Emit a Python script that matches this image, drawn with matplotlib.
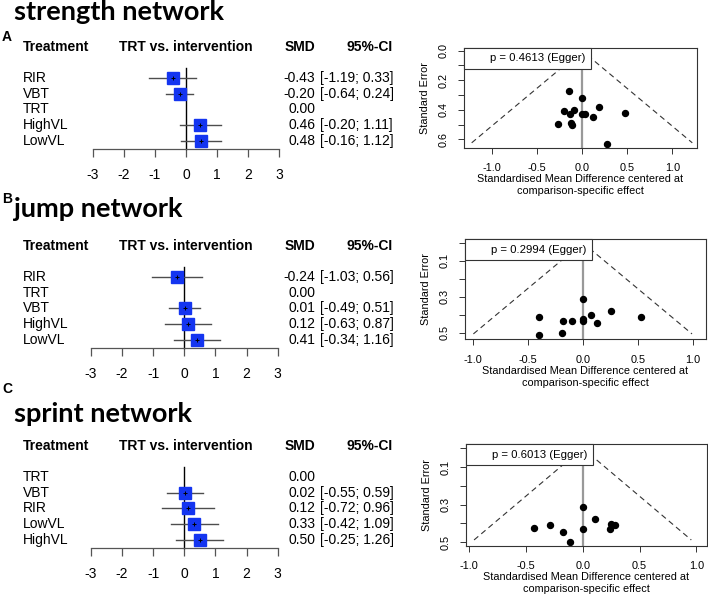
import numpy as np
import matplotlib
matplotlib.use("Agg")
import matplotlib.pyplot as plt
from matplotlib.lines import Line2D
from matplotlib.transforms import blended_transform_factory

plt.rcParams['font.family'] = ['Liberation Sans', 'DejaVu Sans']
plt.rcParams['axes.unicode_minus'] = False

W, H = 708, 597

# ---- forest plot data ----
titles = ["strength network", "jump network", "sprint network"]
panel_letters = ["A", "B", "C"]

trt_a = ["RIR", "VBT", "TRT", "HighVL", "LowVL"]
smd_a = [-0.43, -0.20, 0.00, 0.46, 0.48]
lo_a = [-1.19, -0.64, np.nan, -0.20, -0.16]
hi_a = [0.33, 0.24, np.nan, 1.11, 1.12]

trt_b = ["RIR", "TRT", "VBT", "HighVL", "LowVL"]
smd_b = [-0.24, 0.00, 0.01, 0.12, 0.41]
lo_b = [-1.03, np.nan, -0.49, -0.63, -0.34]
hi_b = [0.56, np.nan, 0.51, 0.87, 1.16]

trt_c = ["TRT", "VBT", "RIR", "LowVL", "HighVL"]
smd_c = [0.00, 0.02, 0.12, 0.33, 0.50]
lo_c = [np.nan, -0.55, -0.72, -0.42, -0.25]
hi_c = [np.nan, 0.59, 0.96, 1.09, 1.26]

# ---- funnel plot data ----
fx_a = [-0.14, 0.0, -0.20, -0.085, -0.133, 0.0, 0.037, 0.19, 0.118, 0.48, -0.27, -0.122, -0.114, 0.273]
fy_a = [0.271, 0.318, 0.41, 0.401, 0.431, 0.429, 0.427, 0.381, 0.449, 0.422, 0.498, 0.487, 0.503, 0.631]
fx_b = [0.0, 0.257, -0.397, -0.176, -0.10, 0.0, 0.0, 0.073, 0.127, 0.53, -0.19, -0.397]
fy_b = [0.315, 0.378, 0.411, 0.433, 0.433, 0.424, 0.434, 0.40, 0.448, 0.414, 0.50, 0.513]
fx_c = [0.0, 0.108, -0.426, -0.287, -0.170, 0.0, -0.111, 0.249, 0.284, 0.240]
fy_c = [0.314, 0.378, 0.425, 0.408, 0.443, 0.427, 0.496, 0.401, 0.408, 0.431]
se_max = [0.623, 0.507, 0.4875]
egger_p = ["0.4613", "0.2994", "0.6013"]

forest = [(trt_a, smd_a, lo_a, hi_a), (trt_b, smd_b, lo_b, hi_b), (trt_c, smd_c, lo_c, hi_c)]
funnel = [(fx_a, fy_a), (fx_b, fy_b), (fx_c, fy_c)]

# layout in pixels (from top-left)
shift = [0, 199, 399]
forest_x = [(92.7, 279.3), (90.7, 277.7), (90.7, 277.7)]
funnel_box = [(464, 696.7, 47.7, 147.7), (465, 706, 239, 339.3), (465.7, 706.7, 444, 545.7)]
funnel_xlim = [(-1.306, 1.270), (-1.07, 1.121), (-1.029, 1.091)]
funnel_ylim = [(0.656, -0.020), (0.537, -0.0206), (0.518, -0.022)]
funnel_yticks = [[0.0, 0.1, 0.2, 0.3, 0.4, 0.5, 0.6], [0.0, 0.1, 0.2, 0.3, 0.4, 0.5], [0.0, 0.1, 0.2, 0.3, 0.4, 0.5]]
funnel_ylabels = [["0.0", "", "0.2", "", "0.4", "", "0.6"], ["", "0.1", "", "0.3", "", "0.5"], ["", "0.1", "", "0.3", "", "0.5"]]
title_base = [20.5, 217, 421.5]
letter_y = [37, 199, 389]

row0 = 77.7
row_sp = 15.83
axis_y = 149.3


def box(l, r, t, b):
    return [l / W, 1 - b / H, (r - l) / W, (b - t) / H]


fig = plt.figure(figsize=(W / 100, H / 100), dpi=100)

for k in range(3):
    trt, smd, lo, hi = forest[k]
    s = shift[k]
    x0, x1 = forest_x[k]
    top = row0 + s - 0.5 * row_sp
    bot = axis_y + s
    ax = fig.add_axes(box(x0, x1, top, bot))
    ax.set_xlim(-3, 3)
    ax.set_ylim((bot - row0 - s) / row_sp, -0.5)
    for sp in ["top", "right", "left"]:
        ax.spines[sp].set_visible(False)
    ax.spines["bottom"].set_color("#555555")
    ax.spines["bottom"].set_linewidth(0.9)
    ax.set_yticks([])
    ax.set_xticks(range(-3, 4))
    ax.tick_params(axis="x", direction="out", length=5.5, width=0.9, color="#555555", pad=8, labelsize=10)
    ax.patch.set_alpha(0)

    ax.axvline(0, color="black", lw=1.0, ymax=1.02, clip_on=False)
    rows = np.arange(len(trt))
    for i in rows:
        if not np.isnan(lo[i]):
            ax.plot([lo[i], hi[i]], [i, i], color="#4d4d4d", lw=1.0)
            ax.plot(smd[i], i, marker="s", ms=9, color="#1435f0", mec="#1435f0")
            ax.plot(smd[i], i, marker="+", ms=3, color="black", mew=0.7)

    tr = blended_transform_factory(fig.transFigure, ax.transData)
    hy = -1.96
    ax.text(23 / W, hy, "Treatment", transform=tr, fontsize=10, fontweight="bold", va="center", ha="left")
    ax.text(185.5 / W, hy + 0.05, "TRT vs. intervention", transform=tr, fontsize=10, fontweight="bold", va="center", ha="center")
    ax.text(315.5 / W, hy, "SMD", transform=tr, fontsize=10, fontweight="bold", va="center", ha="right")
    ax.text(369.5 / W, hy, "95%-CI", transform=tr, fontsize=10, fontweight="bold", va="center", ha="center")
    for i in rows:
        ax.text(23 / W, i, trt[i], transform=tr, fontsize=10, va="center", ha="left")
        ax.text(315.5 / W, i, "%.2f" % smd[i], transform=tr, fontsize=10, va="center", ha="right")
        if not np.isnan(lo[i]):
            ax.text(320.5 / W, i, "[%.2f; %.2f]" % (lo[i], hi[i]), transform=tr, fontsize=10, va="center", ha="left")

    fig.text(14 / W, 1 - title_base[k] / H, titles[k], fontsize=19.5, fontweight="bold",
             family=["Lato", "DejaVu Sans"], va="baseline", ha="left")
    fig.text(2 / W, 1 - letter_y[k] / H, panel_letters[k], fontsize=10, fontweight="bold", va="center", ha="left")

    # funnel
    fxs, fys = funnel[k]
    l, r, t, b = funnel_box[k]
    fa = fig.add_axes(box(l, r, t, b))
    fa.set_xlim(*funnel_xlim[k])
    fa.set_ylim(*funnel_ylim[k])
    m = se_max[k]
    fa.plot([-1.96 * m, 0, 1.96 * m], [m, 0, m], color="#333333", lw=0.8, ls=(0, (5, 3.5)))
    fa.axvline(0, color="#999999", lw=1.6)
    fa.plot(fxs, fys, "o", color="black", ms=4.3)
    fa.set_xticks([-1.0, -0.5, 0.0, 0.5, 1.0])
    fa.set_xticklabels(["-1.0", "-0.5", "0.0", "0.5", "1.0"])
    fa.set_yticks(funnel_yticks[k])
    fa.set_yticklabels(funnel_ylabels[k], rotation=90, va="center")
    fa.tick_params(direction="out", length=4, width=0.7, labelsize=7.8, pad=7, color="#333333")
    for sp in fa.spines.values():
        sp.set_color("#333333")
        sp.set_linewidth(0.8)
    fa.set_xlabel("Standardised Mean Difference centered at\ncomparison-specific effect", fontsize=7.8, labelpad=1, linespacing=1.2)
    fa.set_ylabel("Standard Error", fontsize=7.8, labelpad=6)
    leg = fa.legend(handles=[Line2D([], [], ls="none")], labels=["p = %s (Egger)" % egger_p[k]],
                    loc="upper left", borderaxespad=0, fancybox=False, framealpha=1,
                    edgecolor="#333333", fontsize=8.2, handlelength=1.2, handletextpad=0.6,
                    borderpad=0.5)
    leg.get_frame().set_linewidth(0.8)

fig.savefig("out.png", dpi=100)
